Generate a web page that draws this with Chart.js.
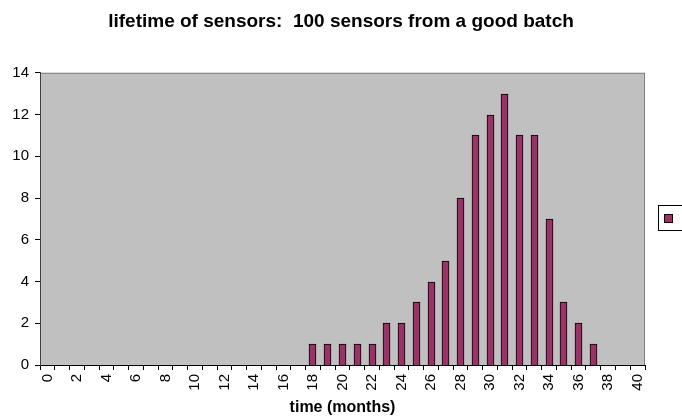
<!DOCTYPE html>
<html>
<head>
<meta charset="utf-8">
<script src="https://cdn.jsdelivr.net/npm/chart.js@4/dist/chart.umd.min.js"></script>
<style>
  html, body { margin:0; padding:0; background:#fff; }
  #wrap { width:682px; height:419px; }
</style>
</head>
<body>
<div id="wrap"><canvas id="c" width="682" height="419"></canvas></div>
<script>
// months 0..40
const MONTHS = [0,1,2,3,4,5,6,7,8,9,10,11,12,13,14,15,16,17,18,19,20,21,22,23,24,25,26,27,28,29,30,31,32,33,34,35,36,37,38,39,40];
// number of sensors that failed in each month
const FAILED = [0,0,0,0,0,0,0,0,0,0,0,0,0,0,0,0,0,0,1,1,1,1,1,2,2,3,4,5,8,11,12,13,11,11,7,3,2,1,0,0,0];
const Y_TICKS = [0,2,4,6,8,10,12,14];

const FONT = 'Liberation Sans, Arial, sans-serif';

// grey plot area + frame, like the old spreadsheet look
const plotBg = {
  id: 'plotBg',
  beforeDraw(chart) {
    const { ctx, chartArea: a } = chart;
    ctx.save();
    ctx.fillStyle = '#c0c0c0';
    ctx.fillRect(a.left, a.top, a.right - a.left, a.bottom - a.top);
    ctx.strokeStyle = '#808080';
    ctx.lineWidth = 1;
    ctx.strokeRect(a.left + 0.5, a.top + 0.5, a.right - a.left - 1, a.bottom - a.top);
    ctx.restore();
  }
};

// snap bars to whole pixels so the black outline stays crisp
const snapBars = {
  id: 'snapBars',
  afterDatasetsUpdate(chart) {
    chart.getDatasetMeta(0).data.forEach(b => {
      b.x = Math.floor(b.x) + 0.5;
      b.y = Math.round(b.y);
      b.base = Math.round(b.base);
    });
  }
};

// legend box with no text, cut off at the right edge
const legendBox = {
  id: 'legendBox',
  afterDraw(chart) {
    const { ctx } = chart;
    ctx.save();
    ctx.fillStyle = '#fff';
    ctx.strokeStyle = '#000';
    ctx.lineWidth = 1;
    ctx.strokeRect(658.5, 205.5, 40, 25);
    ctx.fillStyle = '#993366';
    ctx.fillRect(664.5, 214.5, 8, 8);
    ctx.strokeRect(664.5, 214.5, 8, 8);
    ctx.restore();
  }
};

new Chart(document.getElementById('c').getContext('2d'), {
  type: 'bar',
  data: {
    labels: MONTHS,
    datasets: [{
      label: '',
      data: FAILED,
      backgroundColor: '#993366',
      borderColor: '#000',
      borderWidth: 1,
      borderSkipped: 'bottom',
      barThickness: 7
    }]
  },
  options: {
    responsive: false,
    animation: false,
    devicePixelRatio: 1,
    layout: { padding: { left: 0, right: 0, top: 0, bottom: 2 } },
    plugins: {
      legend: { display: false },
      tooltip: { enabled: false },
      title: {
        display: true,
        text: 'lifetime of sensors:  100 sensors from a good batch',
        color: '#000',
        font: { family: FONT, size: 19, weight: 'bold' },
        padding: { top: 10, bottom: 40 }
      }
    },
    scales: {
      x: {
        afterFit(scale) { scale.height = 52; },
        grid: { display: true, drawOnChartArea: false, offset: true, color: '#000', tickLength: 5, tickColor: '#000' },
        border: { color: '#000', width: 1 },
        ticks: {
          autoSkip: false,
          minRotation: 90,
          maxRotation: 90,
          color: '#000',
          padding: 4,
          font: { family: FONT, size: 15 },
          callback: (v, i) => (MONTHS[i] % 2 === 0 ? String(MONTHS[i]) : '')
        },
        title: {
          display: true,
          text: 'time (months)',
          color: '#000',
          font: { family: FONT, size: 16, weight: 'bold' },
          padding: { top: 0, bottom: 0 }
        }
      },
      y: {
        min: 0,
        max: 14,
        afterBuildTicks(scale) { scale.ticks = Y_TICKS.map(v => ({ value: v })); },
        afterFit(scale) { scale.width = 40; },
        grid: { display: true, drawOnChartArea: false, color: '#000', tickLength: 5, tickColor: '#000' },
        border: { color: '#404040', width: 1 },
        ticks: {
          color: '#000',
          padding: 6,
          font: { family: FONT, size: 15 }
        }
      },
      // empty right-hand strip that holds the legend
      yRight: {
        position: 'right',
        display: true,
        afterFit(scale) { scale.width = 37; },
        grid: { display: false },
        border: { display: false },
        ticks: { display: false }
      }
    }
  },
  plugins: [plotBg, snapBars, legendBox]
});
</script>
</body>
</html>
